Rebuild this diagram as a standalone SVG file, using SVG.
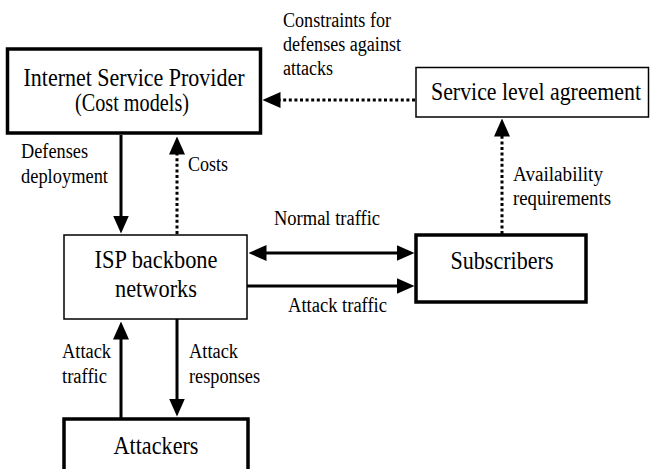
<svg xmlns="http://www.w3.org/2000/svg" width="650" height="469" viewBox="0 0 650 469">
<style>
.box{fill:#fff;stroke:#000}
.thick{stroke-width:3.5}
.thin{stroke-width:1.5}
.ln{fill:none;stroke:#000;stroke-width:3}
.dot{stroke-dasharray:3 2.6}
</style>
<defs>
<marker id="ah" viewBox="0 0 18 16" refX="0.5" refY="8" markerWidth="18" markerHeight="16" markerUnits="userSpaceOnUse" orient="auto-start-reverse">
<path d="M0,0 L18,8 L0,16 Z" fill="#000"/>
</marker>
</defs>
<rect width="650" height="469" fill="#fff"/>
<g id="connectors">
<line class="ln dot" x1="415" y1="100" x2="280" y2="100" marker-end="url(#ah)"/>
<line class="ln" x1="121" y1="135" x2="121" y2="216" marker-end="url(#ah)"/>
<line class="ln dot" x1="177" y1="234" x2="177" y2="154" marker-end="url(#ah)"/>
<line class="ln" x1="266" y1="253" x2="397" y2="253" marker-start="url(#ah)" marker-end="url(#ah)"/>
<line class="ln" x1="247" y1="286" x2="397" y2="286" marker-end="url(#ah)"/>
<line class="ln dot" x1="502" y1="234" x2="502" y2="136" marker-end="url(#ah)"/>
<line class="ln" x1="121" y1="419" x2="121" y2="339" marker-end="url(#ah)"/>
<line class="ln" x1="177" y1="319" x2="177" y2="399" marker-end="url(#ah)"/>
<g font-family="Liberation Serif" font-size="20" fill="#000">
<text x="283" y="27" textLength="108" lengthAdjust="spacingAndGlyphs">Constraints for</text>
<text x="283" y="51" textLength="118" lengthAdjust="spacingAndGlyphs">defenses against</text>
<text x="283" y="75" textLength="50" lengthAdjust="spacingAndGlyphs">attacks</text>
<text x="21" y="158" textLength="67" lengthAdjust="spacingAndGlyphs">Defenses</text>
<text x="21" y="183" textLength="87" lengthAdjust="spacingAndGlyphs">deployment</text>
<text x="188" y="171" textLength="40" lengthAdjust="spacingAndGlyphs">Costs</text>
<text x="274" y="225" textLength="106" lengthAdjust="spacingAndGlyphs">Normal traffic</text>
<text x="288" y="312" textLength="99" lengthAdjust="spacingAndGlyphs">Attack traffic</text>
<text x="513" y="181" textLength="90" lengthAdjust="spacingAndGlyphs">Availability</text>
<text x="513" y="205" textLength="98" lengthAdjust="spacingAndGlyphs">requirements</text>
<text x="62" y="358" textLength="49" lengthAdjust="spacingAndGlyphs">Attack</text>
<text x="62" y="383" textLength="45" lengthAdjust="spacingAndGlyphs">traffic</text>
<text x="189" y="358" textLength="49" lengthAdjust="spacingAndGlyphs">Attack</text>
<text x="189" y="383" textLength="71" lengthAdjust="spacingAndGlyphs">responses</text>
</g>
</g>
<g id="isp">
<rect class="box thick" x="7.5" y="49" width="253" height="84"/>
<text font-family="Liberation Serif" font-size="25" text-anchor="middle" x="134" y="86" textLength="221" lengthAdjust="spacingAndGlyphs">Internet Service Provider</text>
<text font-family="Liberation Serif" font-size="25" text-anchor="middle" x="132" y="111" textLength="114" lengthAdjust="spacingAndGlyphs">(Cost models)</text>
</g>
<g id="sla">
<rect class="box thin" x="416" y="67.5" width="232.5" height="49.5"/>
<text font-family="Liberation Serif" font-size="25" text-anchor="middle" x="536" y="100" textLength="210" lengthAdjust="spacingAndGlyphs">Service level agreement</text>
</g>
<g id="backbone">
<rect class="box thin" x="64" y="235" width="183" height="84"/>
<text font-family="Liberation Serif" font-size="25" text-anchor="middle" x="156" y="268" textLength="123" lengthAdjust="spacingAndGlyphs">ISP backbone</text>
<text font-family="Liberation Serif" font-size="25" text-anchor="middle" x="156" y="297" textLength="82" lengthAdjust="spacingAndGlyphs">networks</text>
</g>
<g id="subscribers">
<rect class="box thick" x="416" y="235" width="170" height="67"/>
<text font-family="Liberation Serif" font-size="25" text-anchor="middle" x="502" y="269" textLength="103" lengthAdjust="spacingAndGlyphs">Subscribers</text>
</g>
<g id="attackers">
<rect class="box thick" x="64" y="419" width="184" height="60"/>
<text font-family="Liberation Serif" font-size="25" text-anchor="middle" x="156" y="454" textLength="85" lengthAdjust="spacingAndGlyphs">Attackers</text>
</g>
</svg>
